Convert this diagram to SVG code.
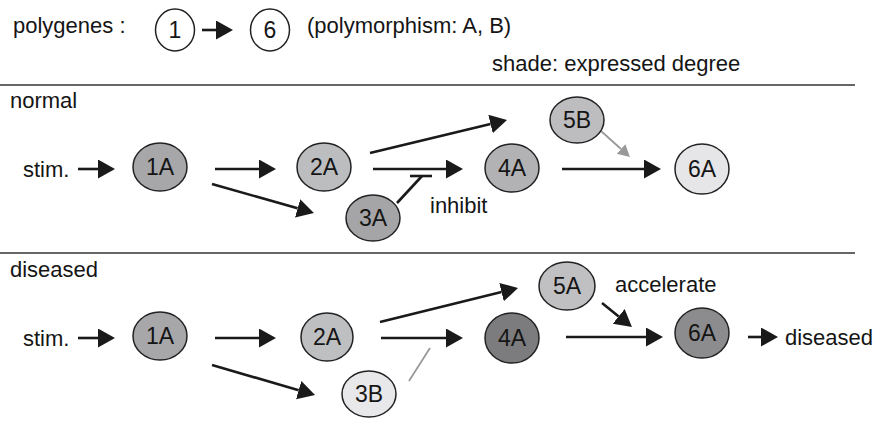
<svg xmlns="http://www.w3.org/2000/svg" width="876" height="425" viewBox="0 0 876 425">
  <style>
    text { font-family: "Liberation Sans", Arial, sans-serif; font-size: 22px; fill: #151515; }
    .lbl { text-anchor: middle; font-size: 23px; }
    .node { stroke: #222; stroke-width: 1.5; }
    .edge { stroke: #1a1a1a; stroke-width: 2.6; fill: none; }
    .soft { stroke: #999; stroke-width: 1.8; fill: none; }
    .rule { stroke: #666; stroke-width: 2; }
  </style>
  <defs>
    <marker id="head" markerUnits="userSpaceOnUse" markerWidth="18" markerHeight="20" refX="0" refY="9.5" orient="auto" viewBox="0 0 18 20">
      <path d="M0,0 L17,9.5 L0,19 Z" fill="#1a1a1a"/>
    </marker>
    <marker id="headSoft" markerUnits="userSpaceOnUse" markerWidth="13" markerHeight="14" refX="0" refY="6.5" orient="auto" viewBox="0 0 13 14">
      <path d="M0,0 L12,6.5 L0,13 Z" fill="#999"/>
    </marker>
  </defs>

  <!-- legend -->
  <g id="legend">
    <text x="13" y="33">polygenes :</text>
    <ellipse cx="175" cy="30" rx="19.5" ry="21" fill="#fff" class="node"/>
    <text x="175" y="38" class="lbl">1</text>
    <line x1="202" y1="30" x2="216" y2="30" class="edge" marker-end="url(#head)"/>
    <ellipse cx="270" cy="30" rx="19.5" ry="21" fill="#fff" class="node"/>
    <text x="270" y="38" class="lbl">6</text>
    <text x="307" y="33">(polymorphism: A, B)</text>
    <text x="492" y="71">shade: expressed degree</text>
  </g>

  <g id="rules">
    <line x1="0" y1="85" x2="855" y2="85" class="rule"/>
    <line x1="0" y1="253" x2="855" y2="253" class="rule"/>
  </g>

  <!-- normal pathway -->
  <text x="10" y="108">normal</text>
  <text x="23" y="177">stim.</text>
  <g id="connectors-normal">
    <line x1="78" y1="169" x2="98" y2="169" class="edge" marker-end="url(#head)"/>
    <line x1="215" y1="169" x2="259" y2="169" class="edge" marker-end="url(#head)"/>
    <line x1="212" y1="184" x2="297.6" y2="208.3" class="edge" marker-end="url(#head)"/>
    <line x1="370" y1="153" x2="490.5" y2="124" class="edge" marker-end="url(#head)"/>
    <line x1="373" y1="169" x2="446" y2="169" class="edge" marker-end="url(#head)"/>
    <line x1="397" y1="203" x2="422" y2="176" class="edge"/>
    <line x1="410" y1="176" x2="432" y2="176" class="edge"/>
    <line x1="562" y1="169" x2="644" y2="169" class="edge" marker-end="url(#head)"/>
    <line x1="601" y1="131" x2="621" y2="149" class="soft" marker-end="url(#headSoft)"/>
  </g>
  <text x="430" y="213">inhibit</text>

  <g id="n-1A"><ellipse cx="160" cy="167" rx="27" ry="24" fill="#a7a7a9" class="node"/><text x="160" y="175" class="lbl">1A</text></g>
  <g id="n-2A"><ellipse cx="324" cy="167" rx="27" ry="24" fill="#bcbdbf" class="node"/><text x="324" y="175" class="lbl">2A</text></g>
  <g id="n-3A"><ellipse cx="373" cy="218" rx="27" ry="23" fill="#a5a5a7" class="node"/><text x="373" y="226" class="lbl">3A</text></g>
  <g id="n-4A"><ellipse cx="512" cy="168" rx="27" ry="24" fill="#b2b2b4" class="node"/><text x="512" y="176" class="lbl">4A</text></g>
  <g id="n-5B"><ellipse cx="577" cy="120" rx="27" ry="23" fill="#bdbdbf" class="node"/><text x="577" y="128" class="lbl">5B</text></g>
  <g id="n-6A"><ellipse cx="702" cy="169" rx="27" ry="25" fill="#e6e6e8" class="node"/><text x="702" y="177" class="lbl">6A</text></g>

  <!-- diseased pathway -->
  <text x="10" y="277">diseased</text>
  <text x="23" y="346">stim.</text>
  <g id="connectors-diseased">
    <line x1="78" y1="338" x2="98" y2="338" class="edge" marker-end="url(#head)"/>
    <line x1="215" y1="338" x2="259" y2="338" class="edge" marker-end="url(#head)"/>
    <line x1="212" y1="365" x2="298.7" y2="390.2" class="edge" marker-end="url(#head)"/>
    <line x1="380" y1="322" x2="501.5" y2="292.1" class="edge" marker-end="url(#head)"/>
    <line x1="381" y1="338" x2="446" y2="338" class="edge" marker-end="url(#head)"/>
    <line x1="409" y1="381" x2="430" y2="348" class="soft"/>
    <line x1="566" y1="337" x2="646" y2="337" class="edge" marker-end="url(#head)"/>
    <line x1="602" y1="303" x2="618.7" y2="316.4" class="edge" marker-end="url(#head)"/>
    <line x1="748" y1="337" x2="761" y2="337" class="edge" marker-end="url(#head)"/>
  </g>
  <text x="615" y="292">accelerate</text>
  <text x="785" y="345">diseased</text>

  <g id="d-1A"><ellipse cx="160" cy="336" rx="27" ry="24" fill="#a7a7a9" class="node"/><text x="160" y="344" class="lbl">1A</text></g>
  <g id="d-2A"><ellipse cx="327" cy="337" rx="26" ry="24" fill="#bebfc1" class="node"/><text x="327" y="345" class="lbl">2A</text></g>
  <g id="d-3B"><ellipse cx="369" cy="394" rx="27" ry="23" fill="#e8e8ea" class="node"/><text x="369" y="402" class="lbl">3B</text></g>
  <g id="d-4A"><ellipse cx="512" cy="338" rx="27" ry="25" fill="#7c7c7e" class="node"/><text x="512" y="346" class="lbl">4A</text></g>
  <g id="d-5A"><ellipse cx="567" cy="286" rx="28" ry="24" fill="#c0c0c2" class="node"/><text x="567" y="294" class="lbl">5A</text></g>
  <g id="d-6A"><ellipse cx="702" cy="333" rx="27" ry="25" fill="#8c8c8e" class="node"/><text x="702" y="341" class="lbl">6A</text></g>
</svg>
